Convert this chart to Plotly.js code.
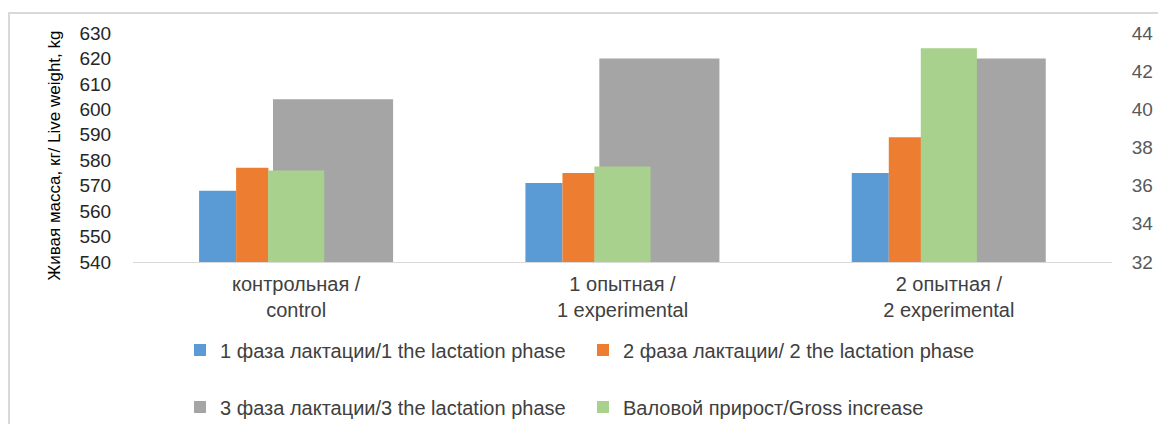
<!DOCTYPE html>
<html>
<head>
<meta charset="utf-8">
<script src="https://cdn.plot.ly/plotly-3.0.1.min.js"></script>
<style>
  html, body { margin: 0; padding: 0; background: #fff; }
  #wrap { position: relative; width: 1158px; height: 424px; }
  #chart { position: absolute; left: 0; top: 0; width: 1158px; height: 424px; }
  #frame { position: absolute; left: 8px; top: 12px; width: 1150px; height: 412px;
           border-top: 2px solid #d9d9d9; border-left: 2px solid #d9d9d9;
           box-sizing: border-box; pointer-events: none; }
</style>
</head>
<body>
<div id="wrap">
  <div id="chart"></div>
  <div id="frame"></div>
</div>
<script>
const categories = ["контрольная /<br>control", "1 опытная /<br>1 experimental", "2 опытная /<br>2 experimental"];
const phase1 = [568, 571, 575];
const phase2 = [577, 575, 589];
const phase3 = [604, 620, 620];
const gross = [36.8, 37.0, 43.2];
const names = [
  "1 фаза лактации/1 the lactation phase",
  "2 фаза лактации/ 2 the lactation phase",
  "3 фаза лактации/3 the lactation phase",
  "Валовой прирост/Gross increase"
];
const yTitle = "Живая масса, кг/ Live weight, kg";
const leftTicks = [540, 550, 560, 570, 580, 590, 600, 610, 620, 630];
const rightTicks = [32, 34, 36, 38, 40, 42, 44];

const FONT = "Liberation Sans, Arial, sans-serif";

const traces = [
  { type: "bar", x: categories, y: phase1, name: names[0], marker: { color: "#5B9BD5" },
    offset: -0.2975, width: 0.1135, yaxis: "y", legend: "legend" },
  { type: "bar", x: categories, y: phase2, name: names[1], marker: { color: "#ED7D31" },
    offset: -0.184, width: 0.099, yaxis: "y", legend: "legend2" },
  { type: "bar", x: categories, y: phase3, name: names[2], marker: { color: "#A5A5A5" },
    offset: -0.071, width: 0.368, yaxis: "y", legend: "legend3" },
  { type: "bar", x: categories, y: gross, name: names[3], marker: { color: "#A9D18E" },
    offset: -0.086, width: 0.172, yaxis: "y2", legend: "legend4" }
];

const legBase = { orientation: "h", xanchor: "left", yanchor: "middle", bgcolor: "rgba(0,0,0,0)",
  xref: "container", yref: "container",
  font: { family: FONT, size: 20, color: "#404040" }, itemwidth: 30 };

const L = 133, W = 979, B = 262, H = 229;
const px = v => (v - L) / W;
const py = v => (B - v) / H;
const cx = v => v / 1158;
const cy = v => 1 - v / 424;

const layout = {
  width: 1158, height: 424,
  margin: { l: 133, r: 46, t: 33, b: 162, autoexpand: false },
  paper_bgcolor: "#ffffff", plot_bgcolor: "#ffffff",
  barmode: "overlay",
  showlegend: true,
  font: { family: FONT },
  xaxis: {
    type: "category",
    showline: true, linecolor: "#d9d9d9", linewidth: 1,
    showgrid: false, zeroline: false,
    ticks: "outside", ticklen: 4, tickcolor: "rgba(0,0,0,0)",
    tickfont: { family: FONT, size: 20, color: "#404040" },
    fixedrange: true
  },
  yaxis: {
    range: [540, 630], tickvals: leftTicks, ticktext: leftTicks.map(String),
    showgrid: false, zeroline: false, showline: false,
    ticks: "outside", ticklen: 17, tickcolor: "rgba(0,0,0,0)",
    tickfont: { family: FONT, size: 19, color: "#262626" },
    fixedrange: true
  },
  yaxis2: {
    overlaying: "y", side: "right",
    range: [32, 44], tickvals: rightTicks, ticktext: rightTicks.map(String),
    showgrid: false, zeroline: false, showline: false,
    ticks: "outside", ticklen: 15, tickcolor: "rgba(0,0,0,0)",
    tickfont: { family: FONT, size: 19, color: "#595959" },
    fixedrange: true
  },
  annotations: [{
    text: yTitle, xref: "paper", yref: "paper", x: px(54), y: py(155.5),
    xanchor: "center", yanchor: "middle", textangle: -90, showarrow: false,
    font: { family: FONT, size: 17, color: "#000000" }
  }],
  legend:  Object.assign({}, legBase, { x: cx(180), y: cy(350) }),
  legend2: Object.assign({}, legBase, { x: cx(583), y: cy(350) }),
  legend3: Object.assign({}, legBase, { x: cx(180), y: cy(407) }),
  legend4: Object.assign({}, legBase, { x: cx(583), y: cy(407) })
};

Plotly.newPlot("chart", traces, layout, { displayModeBar: false, staticPlot: true });
</script>
</body>
</html>
